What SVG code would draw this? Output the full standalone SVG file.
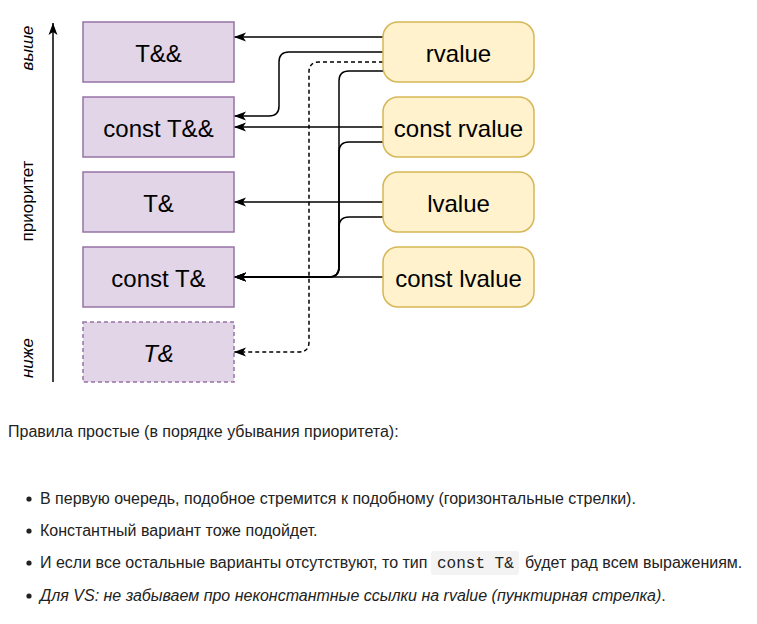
<svg xmlns="http://www.w3.org/2000/svg" width="757" height="624" viewBox="0 0 757 624">
<style>
.bg{fill:#ffffff}
.tbox{fill:#e1d5e7;stroke:#9673a6;stroke-width:1.5}
.vbox{fill:#fff2cc;stroke:#d6b656;stroke-width:1.5}
.lbl{font-family:"Liberation Sans",Arial,sans-serif;font-size:24px;fill:#000;text-anchor:middle}
.side{font-family:"Liberation Sans",Arial,sans-serif;font-size:17px;fill:#000;text-anchor:middle}
.edge{fill:none;stroke:#000;stroke-width:1.5}
.dash{stroke-dasharray:4 3}
.txt{font-family:"Liberation Sans",Arial,sans-serif;font-size:16px;fill:#222}
.mono{font-family:"Liberation Mono","Courier New",monospace;font-size:16px;fill:#222}
</style>
<defs>
<marker id="arr" viewBox="0 0 12 10" refX="12" refY="5" markerWidth="12" markerHeight="10" markerUnits="userSpaceOnUse" orient="auto">
<path d="M12,5 L0,0.5 L3,5 L0,9.5 Z" fill="#000"/>
</marker>
</defs>
<rect class="bg" x="0" y="0" width="757" height="624"/>

<g id="axis">
<line x1="53" y1="382" x2="53" y2="23" stroke="#000" stroke-width="1.5" marker-end="url(#arr)"/>
<text class="side" font-style="italic" transform="translate(33,48) rotate(-90)">выше</text>
<text class="side" transform="translate(33,201) rotate(-90)">приоритет</text>
<text class="side" font-style="italic" transform="translate(33,358) rotate(-90)">ниже</text>
</g>

<g id="edges">
<path class="edge" d="M383,37 H234" marker-end="url(#arr)"/>
<path class="edge" d="M383,52 H289 Q279,52 279,62 V106 Q279,116 269,116 H234" marker-end="url(#arr)"/>
<path class="edge dash" d="M383,62 H319 Q309,62 309,72 V342 Q309,352 299,352 H234" marker-end="url(#arr)"/>
<path class="edge" d="M383,71 H349 Q339,71 339,81 V267 Q339,277 329,277 H234" marker-end="url(#arr)"/>
<path class="edge" d="M383,127 H234" marker-end="url(#arr)"/>
<path class="edge" d="M383,142 H349 Q339,142 339,152 V267 Q339,277 329,277 H234" marker-end="url(#arr)"/>
<path class="edge" d="M383,202 H234" marker-end="url(#arr)"/>
<path class="edge" d="M383,217 H349 Q339,217 339,227 V267 Q339,277 329,277 H234" marker-end="url(#arr)"/>
<path class="edge" d="M383,277 H234" marker-end="url(#arr)"/>
</g>

<g id="n_t_rr"><rect class="tbox" x="83" y="22" width="151" height="60"/><text class="lbl" x="158.5" y="61.5">T&amp;&amp;</text></g>
<g id="n_ct_rr"><rect class="tbox" x="83" y="97" width="151" height="60"/><text class="lbl" x="158.5" y="136.5">const T&amp;&amp;</text></g>
<g id="n_t_r"><rect class="tbox" x="83" y="172" width="151" height="60"/><text class="lbl" x="158.5" y="211.5">T&amp;</text></g>
<g id="n_ct_r"><rect class="tbox" x="83" y="247" width="151" height="60"/><text class="lbl" x="158.5" y="286.5">const T&amp;</text></g>
<g id="n_t_r_vs"><rect class="tbox" x="83" y="322" width="151" height="60" stroke-dasharray="4 3"/><text class="lbl" font-style="italic" x="158.5" y="361.5">T&amp;</text></g>

<g id="n_rvalue"><rect class="vbox" x="383" y="22" width="151" height="60" rx="15"/><text class="lbl" x="458.5" y="61.5">rvalue</text></g>
<g id="n_crvalue"><rect class="vbox" x="383" y="97" width="151" height="60" rx="15"/><text class="lbl" x="458.5" y="136.5">const rvalue</text></g>
<g id="n_lvalue"><rect class="vbox" x="383" y="172" width="151" height="60" rx="15"/><text class="lbl" x="458.5" y="211.5">lvalue</text></g>
<g id="n_clvalue"><rect class="vbox" x="383" y="247" width="151" height="60" rx="15"/><text class="lbl" x="458.5" y="286.5">const lvalue</text></g>

<g id="notes">
<text class="txt" x="8" y="437">Правила простые (в порядке убывания приоритета):</text>
<circle cx="29" cy="499" r="2.6" fill="#222"/>
<text class="txt" x="40" y="504">В первую очередь, подобное стремится к подобному (горизонтальные стрелки).</text>
<circle cx="29" cy="531" r="2.6" fill="#222"/>
<text class="txt" x="40" y="536">Константный вариант тоже подойдет.</text>
<circle cx="29" cy="563" r="2.6" fill="#222"/>
<rect x="431" y="551" width="88" height="24" rx="3" fill="#f3f3f3"/>
<text class="txt" x="40" y="568">И если все остальные варианты отсутствуют, то тип</text>
<text class="mono" x="437" y="568">const T&amp;</text>
<text class="txt" x="525" y="568">будет рад всем выражениям.</text>
<circle cx="29" cy="596" r="2.6" fill="#222"/>
<text class="txt" x="40" y="601"><tspan font-style="italic">Для VS: не забываем про неконстантные ссылки на rvalue (пунктирная стрелка)</tspan>.</text>
</g>
</svg>
